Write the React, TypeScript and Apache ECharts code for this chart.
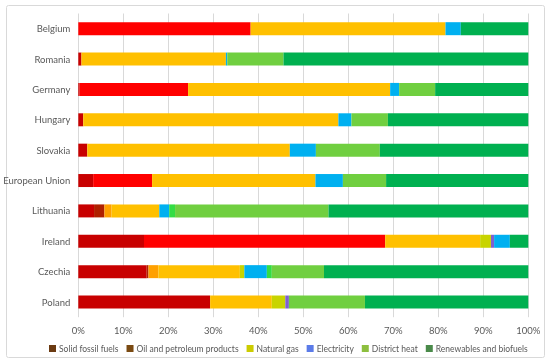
import React, { useEffect, useRef } from "react";
import * as echarts from "echarts";

const countries = ["Belgium", "Romania", "Germany", "Hungary", "Slovakia", "European Union", "Lithuania", "Ireland", "Czechia", "Poland"];
const xTicks = [0, 10, 20, 30, 40, 50, 60, 70, 80, 90, 100];

// shares in %, one value per country in order above
const solidFossil = [0, 0.7, 0.3, 1.1, 2.0, 3.3, 3.5, 14.6, 15.2, 29.3];
const solidFossilB = [0, 0, 0, 0, 0, 0, 2.3, 0, 0.4, 0];
const oilPetroleum = [38.3, 0, 24.1, 0, 0, 13.1, 0, 53.6, 0, 0];
const oilOrange = [0, 0, 0, 0, 0, 0, 1.6, 0, 2.2, 0];
const naturalGas = [43.3, 32.1, 44.9, 56.7, 45.0, 36.3, 10.6, 21.1, 18.1, 13.7];
const gasYellowGreen = [0, 0, 0, 0, 0, 0, 0, 2.4, 1.0, 3.0];
const otherPurple = [0, 0, 0, 0, 0, 0, 0, 0.7, 0, 0.8];
const electricity = [3.4, 0.3, 2.0, 2.9, 5.8, 6.1, 2.2, 3.5, 5.0, 0];
const heatBright = [0, 0, 0, 0, 0, 0, 1.3, 0, 1.1, 0];
const districtHeat = [0, 12.5, 8.0, 8.1, 14.2, 9.6, 34.1, 0, 11.6, 16.9];
const renewables = [15.0, 54.4, 20.7, 31.2, 33.0, 31.6, 44.4, 4.1, 45.4, 36.3];

const legendNames = ["Solid fossil fuels", "Oil and petroleum products", "Natural gas", "Electricity", "District heat", "Renewables and biofuels"];
const legendColors = ["#6B3A12", "#7A4A12", "#CCCC00", "#5B7BE8", "#8DBF3F", "#4A8A4A"];

const FONT = "Lato, 'Open Sans', sans-serif";

export default function App() {
  const ref = useRef<HTMLDivElement>(null);
  useEffect(() => {
    if (!ref.current) return;
    const chart = echarts.init(ref.current, null, { renderer: "svg" });
    const mk = (name: string, data: number[], color: string) => ({
      name,
      type: "bar",
      stack: "total",
      data,
      barWidth: 13,
      itemStyle: { color },
      emphasis: { disabled: true },
    });
    chart.setOption({
      animation: false,
      textStyle: { fontFamily: FONT },
      graphic: [
        {
          type: "rect",
          shape: { x: 6.5, y: 5.5, width: 538, height: 352, r: 2 },
          style: { fill: "none", stroke: "#D9D9D9", lineWidth: 1 },
          silent: true,
        },
      ],
      grid: { left: 78.3, right: 21.7, top: 13.5, bottom: 46.8, containLabel: false },
      legend: {
        top: 339,
        left: 44,
        width: 500,
        itemWidth: 7,
        itemHeight: 7,
        itemGap: 8,
        icon: "rect",
        textStyle: { color: "#595959", fontSize: 8.5, padding: [0, 0, 0, -2], fontFamily: FONT },
        data: legendNames.map((n, i) => ({ name: n, itemStyle: { color: legendColors[i] } })),
        selectedMode: false,
      },
      xAxis: {
        type: "value",
        min: 0,
        max: 100,
        interval: 10,
        axisLabel: {
          formatter: (v: number) => (xTicks.includes(v) ? v + "%" : ""),
          color: "#595959",
          fontSize: 9.5,
          margin: 8,
          fontFamily: FONT,
        },
        splitLine: { show: true, lineStyle: { color: "#D9D9D9", width: 1 } },
        axisLine: { show: false },
        axisTick: { show: false },
      },
      yAxis: {
        type: "category",
        data: countries,
        inverse: true,
        axisLabel: { color: "#595959", fontSize: 9.5, margin: 8, fontFamily: FONT },
        axisLine: { show: false },
        axisTick: { show: false },
      },
      series: [
        mk("Solid fossil fuels", solidFossil, "#C80000"),
        mk("solidB", solidFossilB, "#B02000"),
        mk("Oil and petroleum products", oilPetroleum, "#FF0000"),
        mk("oilOrange", oilOrange, "#FFA000"),
        mk("Natural gas", naturalGas, "#FFC000"),
        mk("gasYG", gasYellowGreen, "#C8D400"),
        mk("purple", otherPurple, "#7F60D0"),
        mk("Electricity", electricity, "#00B0F0"),
        mk("heatBright", heatBright, "#33DD44"),
        mk("District heat", districtHeat, "#70CF40"),
        mk("Renewables and biofuels", renewables, "#00B050"),
      ],
    });
    return () => chart.dispose();
  }, []);
  return <div ref={ref} style={{ position: "fixed", left: 0, top: 0, width: 550, height: 364 }} />;
}
